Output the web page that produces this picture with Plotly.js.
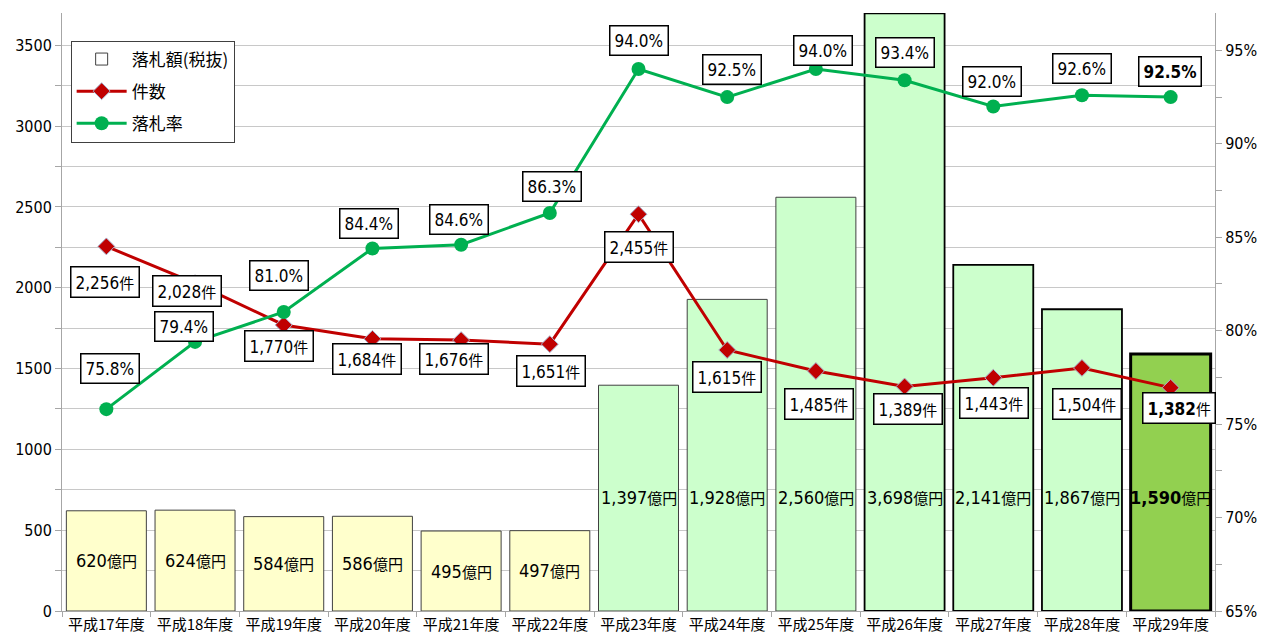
<!DOCTYPE html>
<html>
<head>
<meta charset="utf-8">
<script src="https://cdn.plot.ly/plotly-3.0.1.min.js"></script>
<style>
html,body{margin:0;padding:0;background:#fff;}
#chart{width:1264px;height:642px;}
</style>
</head>
<body>
<div id="chart"></div>
<script>
// ---- data ----
const categories = ['平成17年度','平成18年度','平成19年度','平成20年度','平成21年度','平成22年度','平成23年度','平成24年度','平成25年度','平成26年度','平成27年度','平成28年度','平成29年度'];
const amounts = [620, 624, 584, 586, 495, 497, 1397, 1928, 2560, 3698, 2141, 1867, 1590];   // 落札額(税抜) 億円
const counts  = [2256, 2028, 1770, 1684, 1676, 1651, 2455, 1615, 1485, 1389, 1443, 1504, 1382]; // 件数
const rates   = [75.8, 79.4, 81.0, 84.4, 84.6, 86.3, 94.0, 92.5, 94.0, 93.4, 92.0, 92.6, 92.5]; // 落札率 %

// ---- styles ----
const barFill  = ['#FFFFCC','#FFFFCC','#FFFFCC','#FFFFCC','#FFFFCC','#FFFFCC','#CCFFCC','#CCFFCC','#CCFFCC','#CCFFCC','#CCFFCC','#CCFFCC','#92D050'];
const barLine  = ['#404040','#404040','#404040','#404040','#404040','#404040','#404040','#404040','#404040','#000000','#000000','#000000','#000000'];
const barLineW = [1,1,1,1,1,1,1,1,1,1.8,1.8,1.8,3];
const boldLast = [false,false,false,false,false,false,false,false,false,false,false,false,true];
// label offsets in pixels [dx, dy(down)]
const countOff = [[-1,36],[-8,8],[-5,21],[-5,20],[-7,19],[1,27],[0,33],[0,27],[3,33],[3,22],[1,25],[5,36],[8,20]];
const rateOff  = [[4,-41],[-11,-15],[-5,-37],[-3,-25],[-2,-25],[2,-26],[0,-29],[5,-28],[7,-19],[0,-28],[-1,-25],[0,-27],[-1,-26]];
const greenLabelLevel = 700;

const FONT = 'DejaVu Sans Condensed, DejaVu Sans, Noto Sans CJK JP, sans-serif';
const CJK = 'Noto Sans CJK JP, sans-serif';

const fmt = v => v.toLocaleString('en-US');

const traces = [
  { // legend entry for the bars (white box as in the original legend)
    type:'bar', x:[categories[0]], y:[null], name:'落札額(税抜)', showlegend:true, hoverinfo:'skip', legendgroup:'a',
    marker:{color:'#FFFFFF', line:{color:'#404040', width:1}}
  },
  {
    type:'bar', x:categories, y:amounts, name:'落札額(税抜)', showlegend:false, legendgroup:'a',
    marker:{color:barFill, line:{color:barLine, width:barLineW}},
    yaxis:'y'
  },
  {
    type:'scatter', mode:'lines+markers', x:categories, y:counts, name:'件数', legendgroup:'b',
    line:{color:'#C00000', width:3},
    marker:{symbol:'diamond', size:13, color:'#C00000', line:{color:'#A9B4D0', width:1}},
    yaxis:'y'
  },
  {
    type:'scatter', mode:'lines+markers', x:categories, y:rates, name:'落札率', legendgroup:'c',
    line:{color:'#00B050', width:3},
    marker:{symbol:'circle', size:14, color:'#00B050'},
    yaxis:'y2'
  }
];

const annotations = [];
categories.forEach((c,i)=>{
  const bold = boldLast[i];
  const isYellow = barFill[i] === '#FFFFCC';
  const num = bold ? '<b>'+fmt(amounts[i])+'</b>' : fmt(amounts[i]);
  annotations.push({
    x:c, y: isYellow ? amounts[i]/2 : greenLabelLevel, xref:'x', yref:'y',
    text: num + "<span style='font-family:Noto Sans CJK JP;font-size:15px'>億円</span>",
    showarrow:false, font:{family:FONT, size:18, color:'#000'}
  });
  annotations.push({
    x:c, y:counts[i], xref:'x', yref:'y',
    xshift:countOff[i][0], yshift:-countOff[i][1],
    text: (bold?'<b>'+fmt(counts[i])+'</b>':fmt(counts[i])) + "<span style='font-family:Noto Sans CJK JP;font-size:15px'>件</span>",
    showarrow:false, font:{family:FONT, size:17, color:'#000'},
    bgcolor:'#FFFFFF', bordercolor:'#000000', borderwidth:1.5, borderpad:4
  });
  annotations.push({
    x:c, y:rates[i], xref:'x', yref:'y2',
    xshift:rateOff[i][0], yshift:-rateOff[i][1],
    text: bold ? '<b>'+rates[i].toFixed(1)+'%</b>' : rates[i].toFixed(1)+'%',
    showarrow:false, font:{family:FONT, size:17, color:'#000'},
    bgcolor:'#FFFFFF', bordercolor:'#000000', borderwidth:1.5, borderpad:4
  });
});

const layout = {
  width:1264, height:642,
  margin:{l:62, r:49, t:13, b:31},
  paper_bgcolor:'#FFFFFF', plot_bgcolor:'#FFFFFF',
  barmode:'overlay',
  bargap:0.098,
  showlegend:true,
  legend:{
    x:0.0075, y:0.954, xanchor:'left', yanchor:'top',
    bgcolor:'#FFFFFF', bordercolor:'#404040', borderwidth:1,
    font:{family:CJK, size:17, color:'#000'},
    traceorder:'grouped', tracegroupgap:7, itemwidth:50
  },
  xaxis:{
    type:'category', range:[-0.5, categories.length-0.5], showgrid:false, showline:true, linecolor:'#A6A6A6', linewidth:1,
    ticks:'outside', tickson:'boundaries', ticklen:5, tickcolor:'#A6A6A6', tickangle:0,
    tickfont:{family:CJK, size:15, color:'#000'}, zeroline:false
  },
  yaxis:{
    range:[0,3700], dtick:500, tick0:0, showgrid:true, gridcolor:'#C8C8C8', gridwidth:1,
    showline:true, linecolor:'#A6A6A6', linewidth:1, ticks:'outside', ticklen:6, tickcolor:'#A6A6A6',
    minor:{dtick:250, showgrid:true, gridcolor:'#C8C8C8', ticks:'outside', ticklen:6, tickcolor:'#A6A6A6'},
    tickfont:{family:FONT, size:16, color:'#000'}, zeroline:false
  },
  yaxis2:{
    overlaying:'y', side:'right', range:[65,97], dtick:5, tick0:65, showgrid:false,
    showline:true, linecolor:'#A6A6A6', linewidth:1, ticks:'outside', ticklen:6, tickcolor:'#A6A6A6',
    minor:{dtick:2.5, ticks:'outside', ticklen:6, tickcolor:'#A6A6A6'},
    ticksuffix:'%', tickfont:{family:FONT, size:16, color:'#000'}, zeroline:false
  },
  annotations: annotations
};

Plotly.newPlot('chart', traces, layout, {displayModeBar:false, staticPlot:true});
</script>
</body>
</html>
